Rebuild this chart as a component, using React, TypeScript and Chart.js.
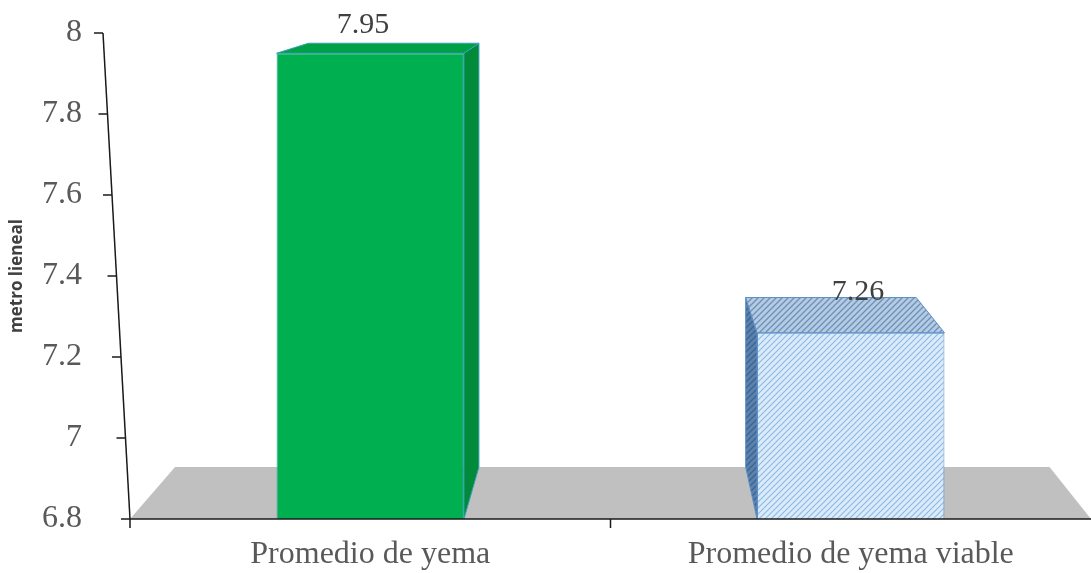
import React, { useEffect, useRef } from "react";
import { Chart, registerables } from "chart.js";

Chart.register(...registerables);

const categories = ["Promedio de yema", "Promedio de yema viable"];
const values = [7.95, 7.26];
const valueLabels = ["7.95", "7.26"];
const yMin = 6.8;
const yMax = 8;
const yStep = 0.2;

const DEPTH = 0.09;

function makePattern(base: string, line: string, lw: number) {
  const c = document.createElement("canvas");
  c.width = 6;
  c.height = 6;
  const g = c.getContext("2d")!;
  g.fillStyle = base;
  g.fillRect(0, 0, 6, 6);
  g.strokeStyle = line;
  g.lineWidth = lw;
  g.beginPath();
  g.moveTo(-1, 7);
  g.lineTo(7, -1);
  g.moveTo(-1, 1);
  g.lineTo(1, -1);
  g.moveTo(5, 7);
  g.lineTo(7, 5);
  g.stroke();
  return g.createPattern(c, "repeat") as CanvasPattern;
}

export default function App() {
  const ref = useRef<HTMLCanvasElement | null>(null);

  useEffect(() => {
    const canvas = ref.current!;
    const frontBlue = makePattern("#dcebfa", "#8dbbe6", 1.2);
    const topBlue = makePattern("#b4cbe3", "#6d90b8", 1.3);
    const sideBlue = makePattern("#5b82ad", "#3d6490", 1.3);

    const faces = [
      { front: "#00b050", top: "#00a046", side: "#008a3a", edge: "#3aa0b5" },
      { front: frontBlue, top: topBlue, side: sideBlue, edge: "#5b8fc7" },
    ];

    const geo = (chart: any) => {
      const { chartArea } = chart;
      const vx = (chartArea.left + chartArea.right) / 2 + 20;
      const vy = chartArea.top - 91;
      return (x: number, y: number) => [x + DEPTH * (vx - x), y + DEPTH * (vy - y)];
    };

    const plugin = {
      id: "threeD",
      beforeDatasetsDraw(chart: any) {
        const { ctx, chartArea } = chart;
        const yS = chart.scales.y;
        const base = yS.getPixelForValue(yMin);
        const back = geo(chart);
        const L = chartArea.left;
        const R = chartArea.right;
        const bl = back(L, base);
        const br = back(R, base);
        ctx.save();
        ctx.fillStyle = "#c0c0c0";
        ctx.beginPath();
        ctx.moveTo(L, base);
        ctx.lineTo(bl[0], bl[1]);
        ctx.lineTo(br[0], br[1]);
        ctx.lineTo(R, base);
        ctx.closePath();
        ctx.fill();
        ctx.restore();
      },
      afterDatasetsDraw(chart: any) {
        const { ctx, chartArea } = chart;
        const meta = chart.getDatasetMeta(0);
        const yS = chart.scales.y;
        const base = yS.getPixelForValue(yMin);
        const vx = (chartArea.left + chartArea.right) / 2;
        const back = geo(chart);
        ctx.save();
        meta.data.forEach((bar: any, i: number) => {
          const f = faces[i];
          const half = bar.width / 2;
          const x0 = bar.x - half;
          const x1 = bar.x + half;
          const yt = bar.y;
          const tl = back(x0, yt);
          const tr = back(x1, yt);
          const sx = x1 < vx ? x1 : x0;
          const st = back(sx, yt);
          const sb = back(sx, base);
          ctx.fillStyle = f.side;
          ctx.strokeStyle = f.edge;
          ctx.lineWidth = 1;
          ctx.beginPath();
          ctx.moveTo(sx, yt);
          ctx.lineTo(st[0], st[1]);
          ctx.lineTo(sb[0], sb[1]);
          ctx.lineTo(sx, base);
          ctx.closePath();
          ctx.fill();
          ctx.stroke();
          ctx.fillStyle = f.top;
          ctx.beginPath();
          ctx.moveTo(x0, yt);
          ctx.lineTo(tl[0], tl[1]);
          ctx.lineTo(tr[0], tr[1]);
          ctx.lineTo(x1, yt);
          ctx.closePath();
          ctx.fill();
          ctx.stroke();
          ctx.fillStyle = "#404040";
          ctx.font = "30px 'Liberation Serif', serif";
          ctx.textAlign = "center";
          ctx.textBaseline = "alphabetic";
          const midTop = (yt + tl[1]) / 2;
          ctx.fillText(valueLabels[i], bar.x + (bar.x - vx) * 0.03, midTop - 15);
        });
        ctx.restore();
      },
      afterDraw(chart: any) {
        const { ctx, chartArea } = chart;
        const yS = chart.scales.y;
        const base = yS.getPixelForValue(yMin);
        const top = yS.getPixelForValue(yMax);
        const xTop = chartArea.left - 27;
        const xAt = (y: number) => xTop + ((y - top) / (base - top)) * (chartArea.left - xTop);
        ctx.save();
        ctx.strokeStyle = "#1a1a1a";
        ctx.lineWidth = 1.5;
        ctx.beginPath();
        ctx.moveTo(xTop, top);
        ctx.lineTo(chartArea.left, base);
        ctx.stroke();
        for (let k = 0; k <= Math.round((yMax - yMin) / yStep); k++) {
          const py = yS.getPixelForValue(yMin + k * yStep);
          const px = xAt(py);
          ctx.beginPath();
          ctx.moveTo(px - 9, py);
          ctx.lineTo(px, py);
          ctx.stroke();
        }
        ctx.beginPath();
        ctx.moveTo(chartArea.left, base);
        ctx.lineTo(chartArea.right, base);
        ctx.stroke();
        const xs = chart.scales.x;
        const mid = (xs.getPixelForValue(0) + xs.getPixelForValue(1)) / 2;
        ctx.beginPath();
        ctx.moveTo(mid, base);
        ctx.lineTo(mid, base + 9);
        ctx.moveTo(chartArea.left, base);
        ctx.lineTo(chartArea.left, base + 9);
        ctx.stroke();
        ctx.restore();
      },
    };

    const chart = new Chart(canvas, {
      type: "bar",
      data: {
        labels: categories,
        datasets: [
          {
            data: values,
            backgroundColor: [faces[0].front as any, faces[1].front as any],
            borderColor: [faces[0].edge, faces[1].edge],
            borderWidth: 1,
            barPercentage: 0.78,
            categoryPercentage: 0.5,
          },
        ],
      },
      options: {
        animation: false,
        responsive: true,
        maintainAspectRatio: false,
        layout: { padding: { top: 33, right: 0, left: 0, bottom: 0 } },
        plugins: {
          legend: { display: false },
          tooltip: { enabled: false },
        },
        scales: {
          x: {
            grid: { display: false },
            border: { display: false },
            ticks: {
              color: "#595959",
              font: { family: "'Liberation Serif', serif", size: 32 },
              padding: 8,
              maxRotation: 0,
              autoSkip: false,
            },
            afterFit: (s: any) => {
              s.height = 54;
              s.paddingLeft = 0;
              s.paddingRight = 0;
              s.paddingTop = 0;
              s.paddingBottom = 0;
            },
          },
          y: {
            min: yMin,
            max: yMax,
            grid: { display: false },
            border: { display: false },
            ticks: {
              stepSize: yStep,
              color: "#595959",
              font: { family: "'Liberation Serif', serif", size: 32 },
              padding: 40,
              callback: (v: any) => String(Math.round(Number(v) * 10) / 10),
            },
            title: {
              display: true,
              text: "metro lieneal",
              color: "#404040",
              font: { family: "'Open Sans', sans-serif", size: 17, weight: "bold" },
              padding: { top: 7, bottom: 0 },
            },
            afterFit: (s: any) => {
              s.width = 130;
              s.paddingLeft = 0;
              s.paddingRight = 0;
              s.paddingTop = 0;
              s.paddingBottom = 0;
            },
          },
        },
      },
      plugins: [plugin],
    });
    return () => chart.destroy();
  }, []);

  return (
    <div style={{ position: "absolute", left: 0, top: 0, width: 1091, height: 573, background: "#fff" }}>
      <canvas ref={ref} />
    </div>
  );
}
